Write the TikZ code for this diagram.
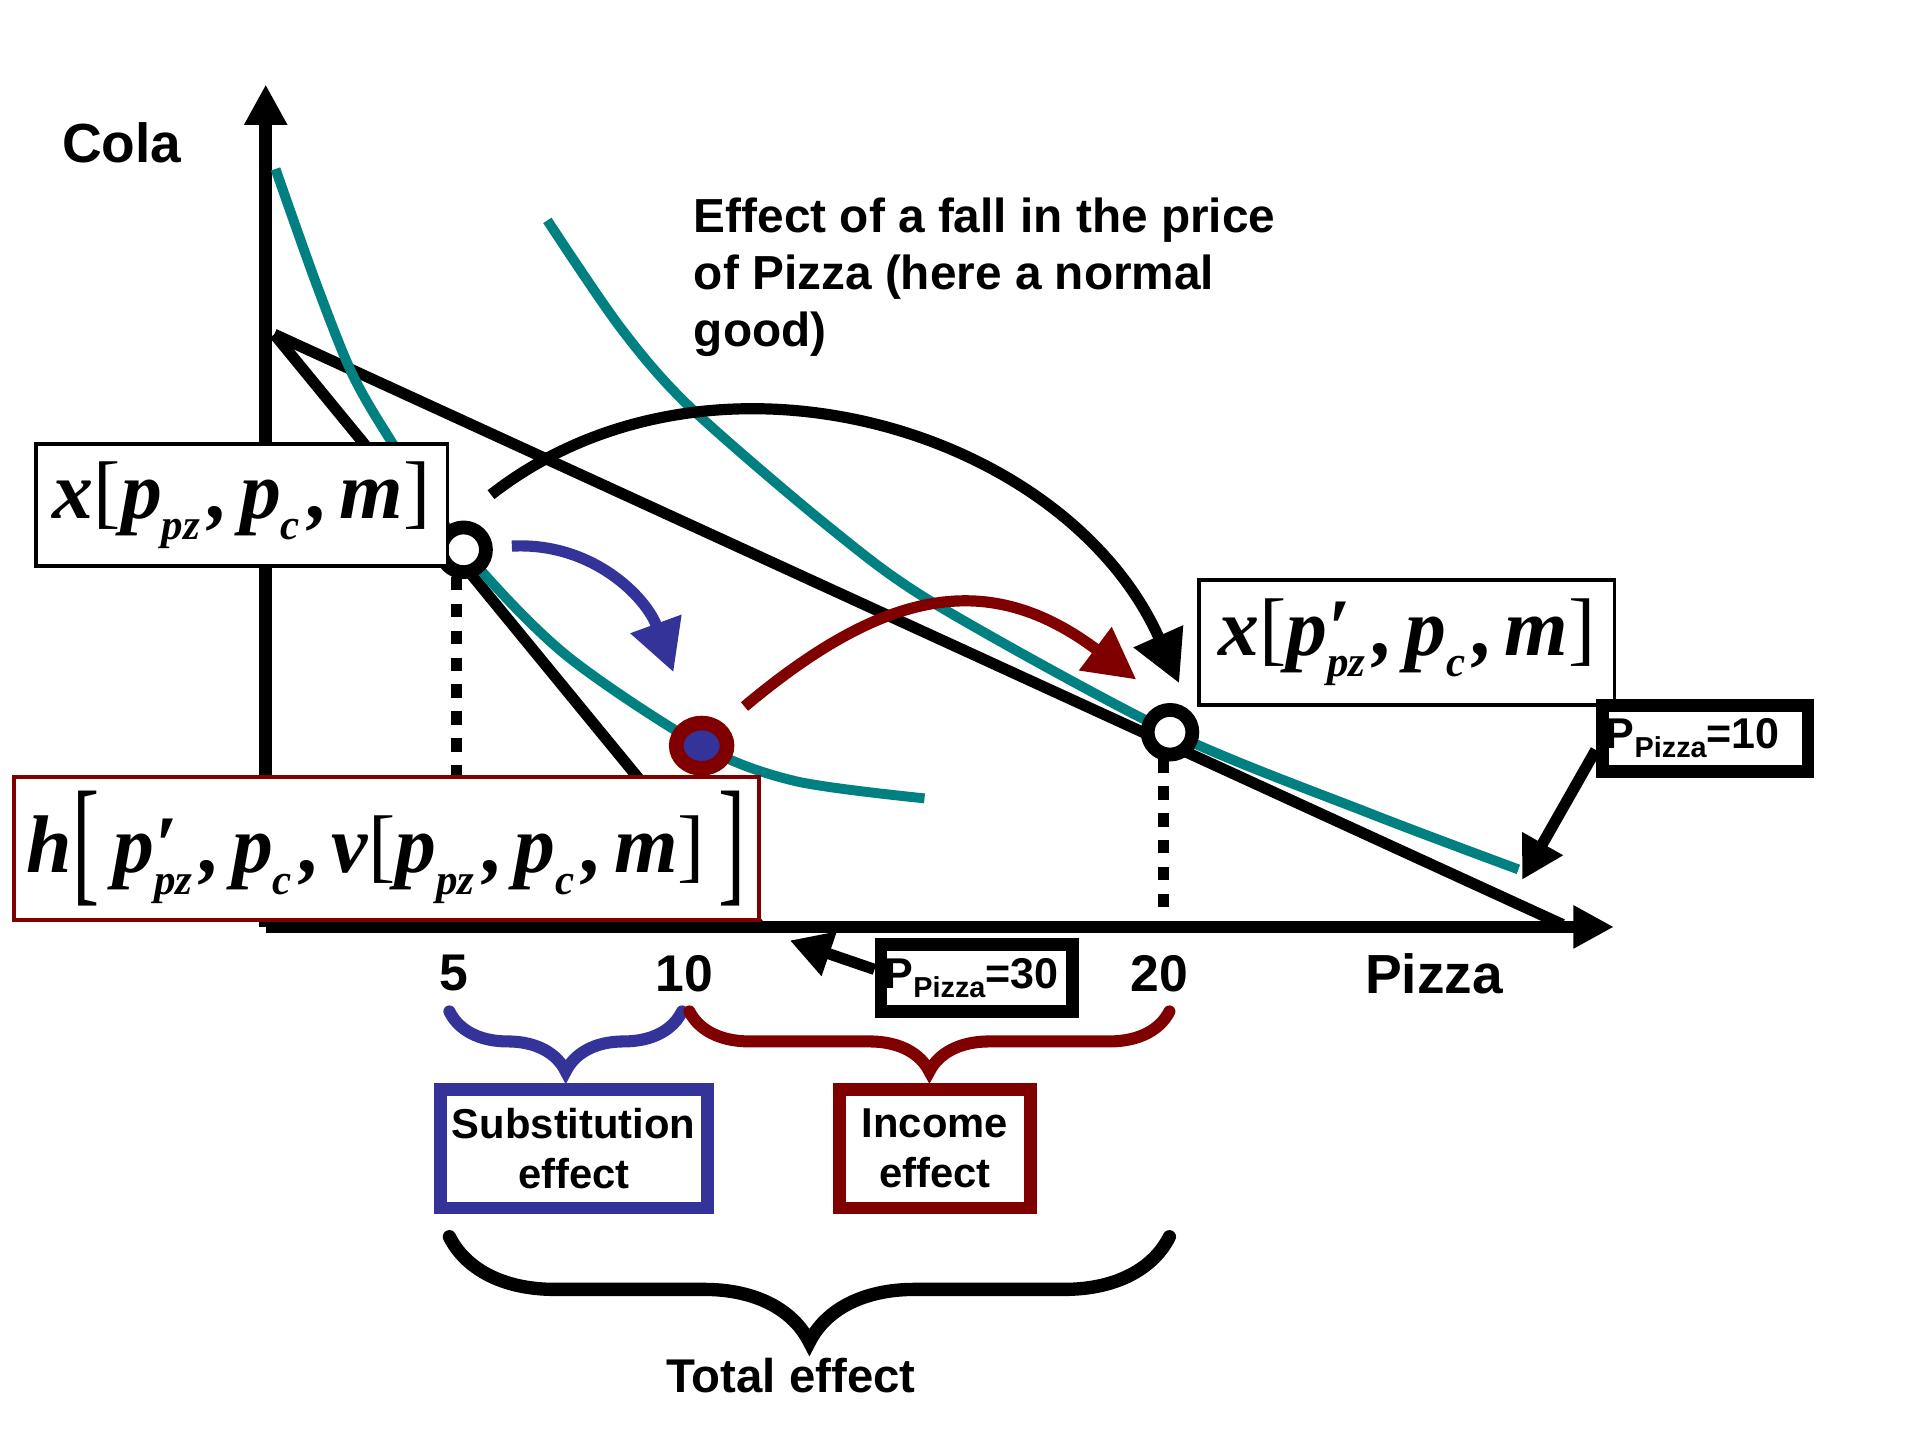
\documentclass[tikz,border=0pt]{standalone}
\usepackage{fontspec}
\setmainfont{Liberation Sans}
\newfontfamily\mathserif{Liberation Serif}
\usepackage{graphicx}
\usepackage{xcolor}
\usepackage{tikz}
\usetikzlibrary{arrows.meta,positioning,calc,shapes.geometric,decorations.pathreplacing}
\definecolor{icteal}{RGB}{0,128,128}
\definecolor{subblue}{RGB}{51,51,153}
\definecolor{incred}{RGB}{128,0,0}
\newcommand{\mfont}{\mathserif\bfseries\itshape\fontsize{19}{22}\selectfont}
\newcommand{\sbs}[1]{\raisebox{-5pt}{\fontsize{10}{12}\selectfont #1}}
\newcommand{\sep}{\hspace{2pt},\hspace{2.5pt}}
\newcommand{\brk}[1]{{\mdseries\upshape #1}}
\newcommand{\bigbrk}[1]{\raisebox{-3.4pt}{\scalebox{1}[1.7]{\mdseries\upshape #1}}}
\newcommand{\psub}[1]{\raisebox{-2pt}{\fontsize{6.7}{8}\selectfont #1}}

\begin{document}
\begin{tikzpicture}[
    axis/.style={line width=2.9pt, -{Triangle[length=0.33cm, width=0.33cm]}},
    budget/.style={line width=2.6pt},
    indiff/.style={line width=2.3pt, icteal},
    drop/.style={line width=0.09cm, dash pattern=on 0.11cm off 0.11cm},
    move/.style={line width=2.6pt, -{Triangle[length=0.42cm, width=0.42cm]}},
    ptr/.style={line width=2.6pt, -{Triangle[length=0.34cm, width=0.36cm]}},
    bundle/.style={circle, draw, line width=3.2pt, fill=white, minimum size=0.365cm, inner sep=0pt},
    fnbox/.style={draw, line width=0.9pt, fill=white, inner sep=0pt, font=\mfont},
    pricebox/.style={draw, line width=3pt, fill=white, inner ysep=0pt, inner xsep=0.03cm, align=left, minimum height=0.54cm, font=\bfseries\fontsize{10}{12}\selectfont},
    effbox/.style={draw, line width=3pt, fill=white, inner sep=0pt, align=center, minimum height=0.97cm, font=\bfseries\fontsize{9.7}{11.7}\selectfont},
    lbl/.style={font=\bfseries\fontsize{12.8}{15}\selectfont},
    tick/.style={font=\bfseries\fontsize{12}{14}\selectfont},
    note/.style={font=\bfseries\fontsize{11.1}{13.2}\selectfont, align=left, inner sep=0pt},
    brc/.style={decorate, line width=2.8pt, line cap=round},
]
    \useasboundingbox (0,0) rectangle (15.68,-11.76);

    % Axes
    \coordinate (orig) at (2.17,-7.57);
    \coordinate (ytop) at (2.17,-0.69);
    \coordinate (xend) at (13.18,-7.57);
    \draw[axis] (orig) -- (ytop);
    \draw[axis] (orig) -- (xend);

    % Budget lines
    \coordinate (apex) at (2.24,-2.73);
    \coordinate (oldcut) at (6.21,-7.57);
    \coordinate (newcut) at (12.76,-7.55);
    \draw[budget] (apex) -- (oldcut);
    \draw[budget] (apex) -- (newcut);

    % Indifference curves
    \draw[indiff] plot[smooth] coordinates {(2.25,-1.38) (2.58,-2.31) (2.87,-3.04) (3.18,-3.58) (3.786,-4.49) (4.61,-5.34) (5.73,-6.09) (6.50,-6.38) (7.55,-6.52)};
    \draw[indiff] plot[smooth] coordinates {(4.47,-1.80) (5.07,-2.68) (5.64,-3.33) (6.79,-4.32) (7.65,-4.94) (9.555,-5.98) (11.18,-6.64) (12.40,-7.10)};

    % Bundles
    \coordinate (A) at (3.786,-4.49);
    \coordinate (B) at (5.73,-6.09);
    \coordinate (C) at (9.555,-5.98);
    \draw[drop] ([xshift=-0.06cm]A) -- ([xshift=-0.06cm]A |- orig);
    \draw[drop] ([xshift=-0.05cm]C) -- ([xshift=-0.05cm]C |- orig);

    % Moves
    \coordinate (bigstart) at (4.01,-4.04);
    \coordinate (bigtip) at (9.63,-5.58);
    \coordinate (substart) at (4.18,-4.46);
    \coordinate (subtip) at (5.50,-5.49);
    \coordinate (incstart) at (6.08,-5.77);
    \coordinate (inctip) at (9.28,-5.55);
    \draw[move] (bigstart) to[out=38, in=114] (bigtip);
    \draw[move, subblue] (substart) to[out=3, in=110] (subtip);
    \draw[move, incred] (incstart) to[out=40, in=143, looseness=1.2] (inctip);

    \node[bundle] (ptA) at (A) {};
    \node[bundle, ellipse, fill=subblue, draw=incred, line width=3.4pt, minimum width=0.415cm, minimum height=0.37cm] (ptB) at (B) {};
    \node[bundle] (ptC) at (C) {};

    % Demand labels
    \node[fnbox, minimum width=3.36cm, minimum height=1.00cm] (xold) at (1.975,-4.125) {x\brk{[}p\sbs{pz}\sep p\sbs{c}\sep m\brk{]}};
    \node[fnbox, draw=incred, minimum width=6.08cm, minimum height=1.17cm] (hcomp) at (3.155,-6.93) {h\bigbrk{[}\,p\rlap{′}\sbs{pz}\sep p\sbs{c}\sep v\brk{[}p\sbs{pz}\sep p\sbs{c}\sep m\brk{]}\,\bigbrk{]}};
    \node[fnbox, minimum width=3.39cm, minimum height=1.02cm] (xnew) at (11.49,-5.245) {x\brk{[}p\rlap{′}\sbs{pz}\sep p\sbs{c}\sep m\brk{]}};

    % Prices
    \node[pricebox, text width=1.62cm] (p10) at (13.925,-6.03) {P\psub{Pizza}=10};
    \node[pricebox, text width=1.50cm] (p30) at (7.975,-7.987) {P\psub{Pizza}=30};
    \coordinate (ic2end) at (12.43,-7.185);
    \coordinate (cutmark) at (6.45,-7.68);
    \draw[ptr] ([yshift=-0.095cm]p10.west) -- (ic2end);
    \draw[ptr] ([yshift=0.07cm]p30.west) -- (cutmark);

    % Axis labels
    \node[lbl] (cola) at (0.995,-1.165) {Cola};
    \node[lbl] (pizza) at (11.71,-7.95) {Pizza};
    \node[tick] (t5) at (3.705,-7.95) {5};
    \node[tick] (t10) at (5.59,-7.95) {10};
    \node[tick] (t20) at (9.47,-7.95) {20};
    \node[note, anchor=north west] (fallnote) at (5.66,-1.61) {Effect of a fall in the price\\of Pizza (here a normal\\good)};

    % Braces
    \coordinate (s5) at (3.67,-8.26);
    \coordinate (s10) at (5.57,-8.26);
    \coordinate (i10) at (5.63,-8.26);
    \coordinate (i20) at (9.55,-8.26);
    \coordinate (tot5) at (3.67,-10.10);
    \coordinate (tot20) at (9.55,-10.10);
    \draw[brc, subblue, decoration={brace, mirror, amplitude=0.49cm}] (s5) -- (s10);
    \draw[brc, incred, decoration={brace, mirror, amplitude=0.49cm}] (i10) -- (i20);
    \draw[brc, line width=3.1pt, decoration={brace, mirror, amplitude=0.86cm}] (tot5) -- (tot20);

    \node[effbox, draw=subblue, minimum width=2.18cm] (subeff) at (4.685,-9.38) {Substitution\\effect};
    \node[effbox, draw=incred, minimum width=1.56cm] (inceff) at (7.635,-9.38) {Income\\effect};
    \node[font=\bfseries\fontsize{11}{13}\selectfont] (toteff) at (6.46,-11.235) {Total effect};
\end{tikzpicture}
\end{document}
